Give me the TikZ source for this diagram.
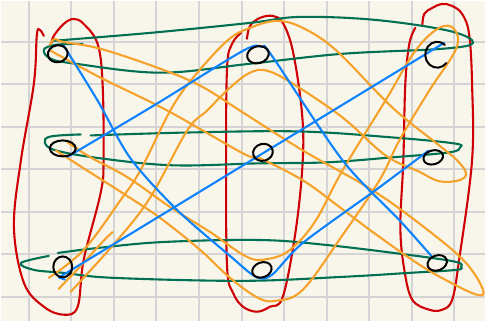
\documentclass[tikz,border=0pt]{standalone}
\usepackage{tikz}
\usepackage{xcolor}
\usetikzlibrary{shapes.geometric,positioning}
\definecolor{paper}{RGB}{248,246,234}
\definecolor{gridgray}{RGB}{212,212,212}
\definecolor{loopred}{RGB}{206,0,6}
\definecolor{loopgreen}{RGB}{0,112,82}
\definecolor{pathblue}{RGB}{12,130,255}
\definecolor{pathorange}{RGB}{246,162,42}
\pgfdeclarelayer{sheet}
\pgfdeclarelayer{ink}
\pgfsetlayers{sheet,ink,main}

\begin{document}
\begin{tikzpicture}[
        x=1pt, y=-1pt,
        ring/.style={ellipse, draw=black, line width=2pt, minimum width=20pt, minimum height=17pt, inner sep=0pt},
        stroke/.style={line width=2.1pt, line cap=round, line join=round},
        wire/.style={stroke, pathblue},
        redloop/.style={stroke, loopred},
        greenloop/.style={stroke, loopgreen},
        orangeloop/.style={stroke, pathorange}
    ]
        % paper and grid
        \begin{pgfonlayer}{sheet}
        \fill[paper] (0,0) rectangle (486,321);
        \foreach \i in {0,...,10} \draw[gridgray, line width=2pt] ({28+42.7*\i},0) -- ({28+42.7*\i},321);
        \foreach \j in {0,...,6} \draw[gridgray, line width=2pt] (0,{41+42.65*\j}) -- (486,{41+42.65*\j});
        \end{pgfonlayer}
        \useasboundingbox (0,0) rectangle (486,321);

        % the nine points
        \node[ring, rotate=10] (tl) at (57,53) {};
        \node[ring, minimum width=22pt, rotate=15] (tm) at (258,54) {};
        \node[ring, draw=none, minimum width=24pt, minimum height=26pt] (tr) at (438,54) {};
        \node[ring, minimum width=26pt, minimum height=16pt] (ml) at (62,148) {};
        \node[ring, rotate=15] (mc) at (263,152) {};
        \node[ring, minimum height=14pt, rotate=15] (mr) at (434,157) {};
        \node[ring, minimum width=19pt, minimum height=21pt] (bl) at (62,267) {};
        \node[ring, minimum height=15pt, rotate=20] (bm) at (262,270) {};
        \node[ring, minimum height=15pt, rotate=20] (br) at (438,263) {};
        \draw[line width=2pt, line cap=round] ([shift={(7.7,-10)}]tr.center) arc[start angle=-50, end angle=-320, x radius=12, y radius=13];

        \begin{pgfonlayer}{ink}
        % red column loops
        \draw[redloop] plot[smooth, tension=0.6] coordinates {(43,35) (39,29) (36,34) (33,83) (20,160) (13,227) (23,283) (43,307) (63,315) (77,307) (83,260) (100,193) (103,160) (102,83) (97,43) (83,23) (73,18) (63,23) (53,35) (51,42)};
        \draw[redloop] plot[smooth, tension=0.6] coordinates {(241,32) (232,43) (227,67) (226,160) (227,267) (233,293) (243,307) (257,312) (270,307) (283,297) (296,230) (303,160) (302,110) (293,50) (283,22) (273,15) (260,17) (250,25) (247,38)};
        \draw[redloop] plot[smooth, tension=0.6] coordinates {(416,27) (410,43) (406,83) (404,160) (401,227) (405,270) (413,300) (430,310) (443,310) (453,300) (460,260) (473,160) (473,83) (470,33) (463,13) (453,5) (443,3) (433,7) (425,13) (423,25)};

        % green row loops
        \draw[greenloop] plot[smooth, tension=0.6] coordinates {(82,43) (55,44) (43,49) (50,58) (75,63) (160,72) (250,63) (343,53) (443,48) (474,42) (450,30) (376,19) (300,16) (250,22) (150,32) (52,40)};
        \draw[greenloop] plot[smooth, tension=0.6] coordinates {(80,134) (50,136) (44,142) (55,150) (100,158) (173,165) (260,163) (327,162) (393,157) (450,152) (461,147) (455,143) (393,137) (300,131) (190,132) (90,135)};
        \draw[greenloop] plot[smooth, tension=0.6] coordinates {(48,256) (20,263) (33,270) (63,273) (113,278) (243,281) (343,277) (410,273) (457,270) (462,267) (457,262) (410,255) (327,245) (260,240) (163,242) (97,248) (57,253)};

        % orange loops
        \draw[orangeloop] plot[smooth, tension=0.6] coordinates {(67,142) (90,157) (127,177) (170,207) (210,232) (247,257) (268,259) (290,250) (315,222) (343,170) (386,100) (416,50) (440,27) (455,28) (457,48) (430,90) (400,140) (380,180) (343,235) (303,290) (276,301) (258,298) (230,278) (200,250) (160,218) (127,196) (83,168) (55,150)};
        \draw[orangeloop] plot[smooth, tension=0.6] coordinates {(48,278) (83,250) (120,200) (140,170) (170,110) (193,77) (227,40) (250,27) (277,20) (303,27) (337,50) (393,107) (440,145) (458,160) (467,173) (460,180) (440,181) (419,171) (386,155) (343,117) (293,83) (267,70) (250,72) (230,87) (207,110) (187,130) (150,197) (117,240) (70,292)};
        \draw[orangeloop] plot[smooth, tension=0.6] coordinates {(49,44) (54,38) (62,41) (100,48) (157,67) (200,85) (243,112) (303,150) (373,190) (426,228) (466,262) (484,290) (478,295) (450,282) (419,264) (376,234) (340,207) (303,180) (260,158) (243,153) (167,110) (100,77) (50,50)};
        \draw[orangeloop] plot[smooth, tension=0.6] coordinates {(58,289) (80,266) (100,244) (112,232)};

        % blue paths
        \draw[wire] plot[smooth, tension=0.5] coordinates {(tl.45) (97,100) (130,158) (177,210) (230,256) (256,277) (272,275) (303,243) (376,190) (mr.110)};
        \draw[wire] plot[smooth, tension=0.5] coordinates {(ml.-60) (155,104) (243,50) (262,46) (272,55) (343,160) (400,220) (br.110)};
        \draw[wire] (tr.60) -- (bl.-110) -- ++(6,2);
        \end{pgfonlayer}
    \end{tikzpicture}
\end{document}
